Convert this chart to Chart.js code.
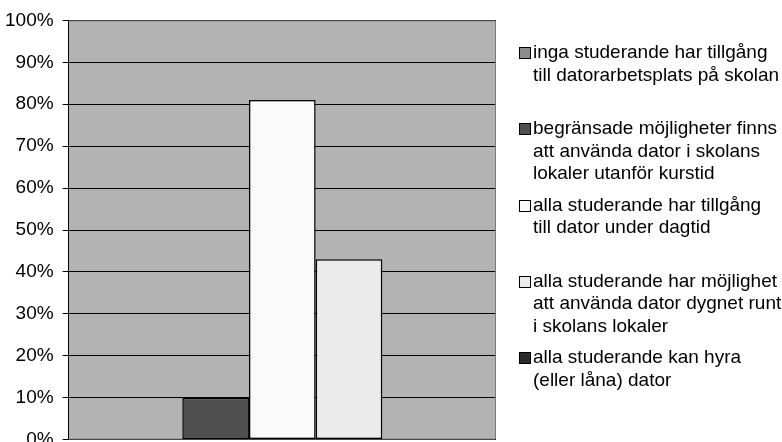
<!DOCTYPE html>
<html lang="sv">
<head>
<meta charset="utf-8">
<title>Tillgång till dator</title>
<script src="https://cdn.jsdelivr.net/npm/chart.js@4/dist/chart.umd.min.js"></script>
<style>
  html, body { margin: 0; padding: 0; background: #fff; overflow: hidden; }
  /* taller than the window so the "0%" label gets cut like in the original */
  #wrap { position: relative; width: 782px; height: 460px; }
  #legend {
    position: absolute; left: 519px; top: 0;
    font-family: "Liberation Sans", Arial, sans-serif;
    font-size: 19px; line-height: 22.5px; color: #000;
  }
  .item { position: absolute; left: 0; white-space: nowrap; }
  .box { position: absolute; left: 0; top: 6px; width: 10px; height: 10px; border: 1px solid #000; }
  .txt { position: absolute; left: 14px; top: 0; }
</style>
</head>
<body>
<div id="wrap">
  <canvas id="chart"></canvas>
  <div id="legend"></div>
</div>
<script>
// 1. DATA
const categories = [""];
const seriesLabels = [
  ["inga studerande har tillgång", "till datorarbetsplats på skolan"],
  ["begränsade möjligheter finns", "att använda dator i skolans", "lokaler utanför kurstid"],
  ["alla studerande har tillgång", "till dator under dagtid"],
  ["alla studerande har möjlighet", "att använda dator dygnet runt", "i skolans lokaler"],
  ["alla studerande kan hyra", "(eller låna) dator"],
];
const seriesValues = [0, 10, 81, 43, 0];
const seriesColors = ["#8c8c8c", "#4f4f4f", "#fafafa", "#ebebeb", "#2b2b2b"];
const yTickValues = [0, 10, 20, 30, 40, 50, 60, 70, 80, 90, 100];

// 2. Plot area: grey fill + grey frame (Excel style)
const plotArea = {
  id: "plotArea",
  beforeDraw(chart) {
    const { ctx, chartArea: a } = chart;
    ctx.save();
    ctx.fillStyle = "#b3b3b3";
    ctx.fillRect(a.left, a.top, a.width, a.height);
    ctx.restore();
  },
  beforeDatasetsDraw(chart) {
    const { ctx, chartArea: a } = chart;
    ctx.save();
    ctx.strokeStyle = "#7a7a7a";
    ctx.lineWidth = 1;
    ctx.beginPath();
    ctx.moveTo(a.left, a.top + 0.5);
    ctx.lineTo(a.right - 0.5, a.top + 0.5);
    ctx.lineTo(a.right - 0.5, a.bottom - 0.5);
    ctx.lineTo(a.left, a.bottom - 0.5);
    ctx.stroke();
    ctx.restore();
  },
};

// 3. Chart
const datasets = seriesLabels.map((lbl, i) => ({
  label: lbl.join(" "),
  data: [seriesValues[i]],
  backgroundColor: seriesColors[i],
  borderColor: "#000",
  borderWidth: 1.5,
  borderSkipped: false,
  barPercentage: 1,
  categoryPercentage: 0.78,
}));

new Chart(document.getElementById("chart"), {
  type: "bar",
  data: { labels: categories, datasets },
  options: {
    responsive: true,
    maintainAspectRatio: false,
    animation: false,
    layout: { padding: { left: -4, top: 18, right: 286, bottom: 6 } },
    plugins: {
      legend: { display: false },
      tooltip: { enabled: false },
    },
    scales: {
      x: { display: false },
      y: {
        min: 0,
        max: 100,
        afterBuildTicks: (axis) => {
          axis.ticks = yTickValues.map((v) => ({ value: v }));
        },
        ticks: {
          callback: (v) => v + "%",
          color: "#000",
          padding: 9,
          font: { family: "'Liberation Sans', Arial, sans-serif", size: 19 },
        },
        grid: {
          color: "#000",
          lineWidth: 1,
          tickLength: 6,
        },
        border: { color: "#000", width: 1 },
      },
    },
  },
  plugins: [plotArea],
});

// 4. Legend (HTML, multi-line labels)
const legend = document.getElementById("legend");
seriesLabels.forEach((lines, i) => {
  const item = document.createElement("div");
  item.className = "item";
  item.style.top = (41 + i * 76.3) + "px";
  item.innerHTML =
    `<span class="box" style="background:${seriesColors[i]}"></span>` +
    `<span class="txt">${lines.join("<br>")}</span>`;
  legend.appendChild(item);
});
</script>
</body>
</html>
